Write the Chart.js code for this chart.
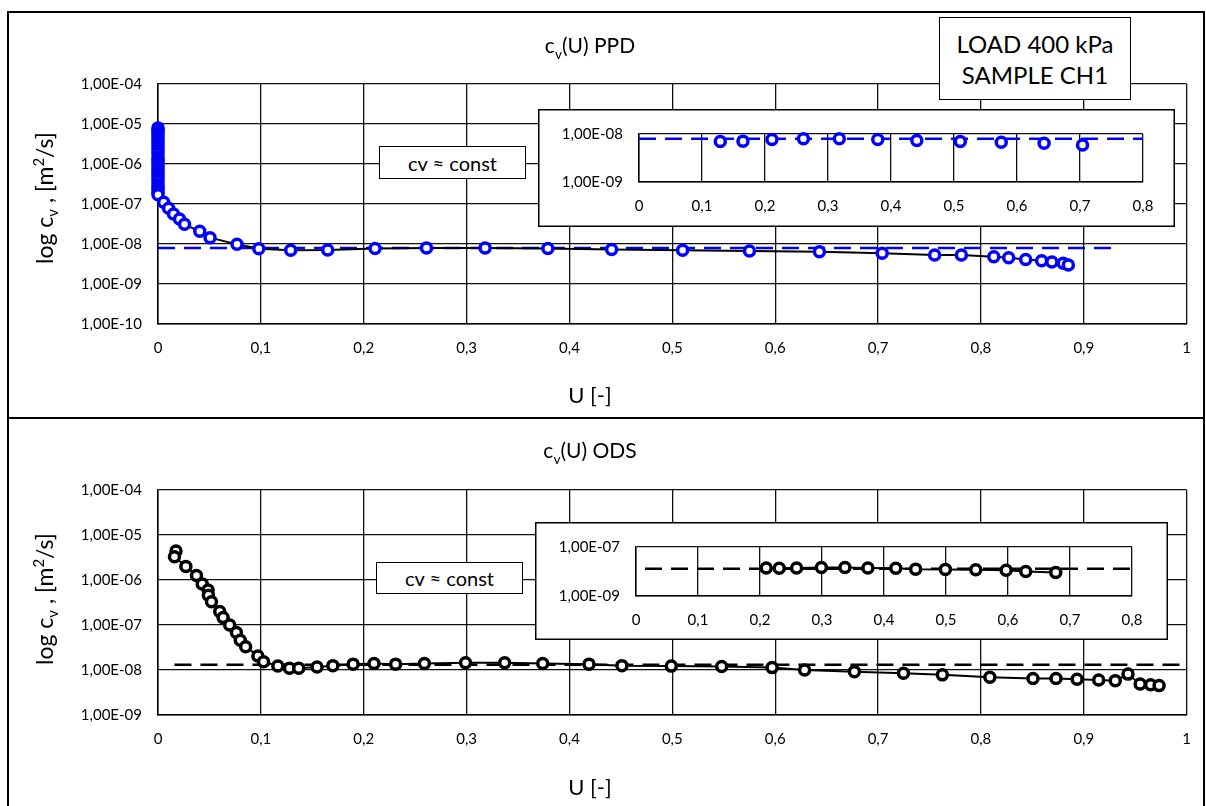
<!DOCTYPE html>
<html lang="en">
<head>
<meta charset="utf-8">
<title>cv(U) PPD / ODS</title>
<script src="https://cdn.jsdelivr.net/npm/chart.js@4.4.1/dist/chart.umd.min.js"></script>
<style>
  * { box-sizing: border-box; }
  body { margin: 0; width: 1206px; height: 806px; position: relative; overflow: hidden; background: #fff; color: #000;
         font-family: Lato, 'Open Sans', sans-serif; }
  .panel { position: absolute; left: 7px; width: 1198px; border: 2px solid #000; }
  canvas { position: absolute; }
  .txt { position: absolute; white-space: nowrap; transform: translate(-50%, -50%); }
  .ytitle { position: absolute; white-space: nowrap; font-size: 23px; transform: translate(-50%, -50%) rotate(-90deg); }
  .box { position: absolute; background: #fff; border: 1.5px solid #000; display: flex; align-items: center;
         justify-content: center; text-align: center; }
  sub, sup { font-size: 0.65em; }
</style>
</head>
<body>
  <div class="panel" style="top:11px;height:408px"></div>
  <div class="panel" style="top:417px;height:400px"></div>

  <canvas id="ppdMain" width="1206" height="417" style="left:0;top:0"></canvas>
  <canvas id="odsMain" width="1206" height="389" style="left:0;top:417px"></canvas>

  <div class="txt" style="left:590px;top:47px;font-size:21px">c<sub>v</sub>(U) PPD</div>
  <div class="txt" style="left:590px;top:452px;font-size:21px">c<sub>v</sub>(U) ODS</div>
  <div class="ytitle" style="left:45px;top:198px">log c<sub>v</sub> , [m<sup>2</sup>/s]</div>
  <div class="ytitle" style="left:45px;top:599px">log c<sub>v</sub> , [m<sup>2</sup>/s]</div>
  <div class="txt" style="left:590px;top:394px;font-size:22px">U [-]</div>
  <div class="txt" style="left:590px;top:786px;font-size:22px">U [-]</div>

  <div class="box" style="left:379px;top:146px;width:147px;height:33px;font-size:20px">cv ≈ const</div>
  <div class="box" style="left:376px;top:562px;width:147px;height:32px;font-size:20px">cv ≈ const</div>
  <div class="box" style="left:939px;top:17px;width:192px;height:83px;font-size:24px;line-height:31px">LOAD 400 kPa<br>SAMPLE CH1</div>

  <canvas id="ppdInset" width="637" height="118" style="left:538px;top:109px"></canvas>
  <canvas id="odsInset" width="633" height="118" style="left:535px;top:522px"></canvas>

<script>
// PPD (top) – U [-] and cv [m2/s]
const ppdU = [0, 0, 0, 0, 0, 0, 0, 0, 0, 0, 0, 0, 0, 0, 0, 0, 0, 0, 0, 0, 0, 0, 0, 0, 0, 0,
  0.0055, 0.0103, 0.0151, 0.0209, 0.0258, 0.0406, 0.0506, 0.0768, 0.098,
  0.129, 0.165, 0.211, 0.261, 0.318, 0.379, 0.441, 0.510, 0.575, 0.643, 0.704,
  0.755, 0.781, 0.8125, 0.827, 0.8435, 0.859, 0.869, 0.880, 0.885];
const ppdCv = [8e-6, 7e-6, 6.2e-6, 5.4e-6, 4.6e-6, 4e-6, 3.4e-6, 2.9e-6, 2.5e-6, 2.1e-6, 1.8e-6, 1.5e-6, 1.3e-6,
  1.1e-6, 9.5e-7, 8e-7, 6.8e-7, 5.8e-7, 4.9e-7, 4.2e-7, 3.6e-7, 3e-7, 2.6e-7, 2.2e-7, 1.9e-7, 1.7e-7,
  1.1e-7, 7.8e-8, 5.6e-8, 4.2e-8, 3.1e-8, 2.08e-8, 1.44e-8, 9.8e-9, 7.6e-9,
  7.0e-9, 7.1e-9, 7.7e-9, 8.0e-9, 8.0e-9, 7.7e-9, 7.3e-9, 7.0e-9, 6.7e-9, 6.4e-9, 5.9e-9,
  5.3e-9, 5.3e-9, 4.8e-9, 4.55e-9, 4.1e-9, 3.8e-9, 3.55e-9, 3.3e-9, 3.0e-9];
const ppdConst = 8e-9;
const ppdConstU = [0, 0.93];
const ppdInsetConstU = [0, 0.8];
const ppdInsetU = [0.12, 0.71];

// ODS (bottom)
const odsU = [0.0175, 0.016, 0.0271, 0.0374, 0.043, 0.0487, 0.049, 0.052, 0.060, 0.0633, 0.0697, 0.0762, 0.080,
  0.0852, 0.0971, 0.1026, 0.1165, 0.1278, 0.1368, 0.1546, 0.170, 0.1897,
  0.210, 0.231, 0.259, 0.299, 0.337, 0.374, 0.419, 0.451, 0.499, 0.548, 0.597, 0.6286, 0.677,
  0.7247, 0.7625, 0.8087, 0.8506, 0.873, 0.8935, 0.9145, 0.9306, 0.943, 0.9548, 0.965, 0.9732];
const odsCv = [4.4e-6, 3.3e-6, 2.0e-6, 1.26e-6, 8.2e-7, 6.0e-7, 4.6e-7, 3.3e-7, 2.0e-7, 1.46e-7, 1.0e-7, 6.8e-8, 4.6e-8,
  3.3e-8, 2.05e-8, 1.53e-8, 1.23e-8, 1.1e-8, 1.1e-8, 1.17e-8, 1.25e-8, 1.35e-8,
  1.4e-8, 1.35e-8, 1.4e-8, 1.45e-8, 1.45e-8, 1.4e-8, 1.35e-8, 1.25e-8, 1.22e-8, 1.19e-8, 1.13e-8, 1.0e-8, 9.2e-9,
  8.5e-9, 7.8e-9, 6.9e-9, 6.5e-9, 6.5e-9, 6.2e-9, 6.0e-9, 5.8e-9, 8.1e-9, 4.9e-9, 4.7e-9, 4.5e-9];
const odsConst = 1.3e-8;
const odsConstU = [0.016, 1];
const odsInsetConstU = [0.0145, 0.8];
const odsInsetU = [0.2, 0.7];

// axes
const xTicksMain = [0, 0.1, 0.2, 0.3, 0.4, 0.5, 0.6, 0.7, 0.8, 0.9, 1];
const xTicksInset = [0, 0.1, 0.2, 0.3, 0.4, 0.5, 0.6, 0.7, 0.8];
const yTicksPpd = [1e-10, 1e-9, 1e-8, 1e-7, 1e-6, 1e-5, 1e-4];
const yTicksOds = [1e-9, 1e-8, 1e-7, 1e-6, 1e-5, 1e-4];
const yTicksPpdInset = [1e-9, 1e-8];
const yTicksOdsInset = [1e-9, 1e-7];

const BLUE = '#0000ff';
const font = { family: 'Lato, "Open Sans", sans-serif', size: 15 };

const fmtX = v => String(Math.round(v * 10) / 10).replace('.', ',');
const fmtY = v => {
  const e = Math.round(Math.log10(v));
  const m = v / Math.pow(10, e);
  return m.toFixed(2).replace('.', ',') + 'E' + (e < 0 ? '-' : '+') + String(Math.abs(e)).padStart(2, '0');
};
const pairs = (xs, ys, lo, hi) => xs.map((x, i) => ({ x, y: ys[i] })).filter(p => p.x >= lo && p.x <= hi);

// white box with black frame behind an inset
const frame = {
  id: 'frame',
  beforeDraw(chart) {
    const { ctx, width, height } = chart;
    ctx.save();
    ctx.fillStyle = '#fff';
    ctx.fillRect(0, 0, width, height);
    ctx.strokeStyle = '#000';
    ctx.lineWidth = 1.5;
    ctx.strokeRect(0.75, 0.75, width - 1.5, height - 1.5);
    ctx.restore();
  }
};

function plot(id, c) {
  const cv = document.getElementById(id);
  const W = cv.width, H = cv.height;
  const grid = { color: '#111', lineWidth: 1.3, drawTicks: false };
  const border = { color: '#000', width: 1.5 };
  return new Chart(cv, {
    type: 'scatter',
    data: {
      datasets: [
        {
          data: c.pts, showLine: c.line, borderColor: '#000', borderWidth: 2, clip: false,
          pointRadius: 5, pointBorderWidth: 3.5, pointBorderColor: c.color, pointBackgroundColor: '#fff'
        },
        {
          data: [{ x: c.constU[0], y: c.constY }, { x: c.constU[1], y: c.constY }],
          showLine: true, borderColor: c.color, borderWidth: 2.5, borderDash: [17, 9], pointRadius: 0, clip: false
        }
      ]
    },
    options: {
      responsive: false, animation: false, events: [],
      layout: { padding: { left: 0, top: c.area.top, right: W - c.area.right, bottom: 0 } },
      plugins: { legend: { display: false }, tooltip: { enabled: false } },
      scales: {
        x: {
          type: 'linear', min: 0, max: c.xTicks[c.xTicks.length - 1],
          afterFit: s => { s.height = H - c.area.bottom; },
          afterBuildTicks: s => { s.ticks = c.xTicks.map(v => ({ value: v })); },
          ticks: { padding: 15, color: '#000', font, maxRotation: 0, autoSkip: false, callback: fmtX },
          grid, border
        },
        y: {
          type: 'logarithmic', min: c.yTicks[0], max: c.yTicks[c.yTicks.length - 1],
          afterFit: s => { s.width = c.area.left; },
          afterBuildTicks: s => { s.ticks = c.yTicks.map(v => ({ value: v })); },
          ticks: { padding: 16, color: '#000', font, autoSkip: false, callback: fmtY },
          grid, border
        }
      }
    },
    plugins: c.frame ? [frame] : []
  });
}

plot('ppdMain', {
  pts: pairs(ppdU, ppdCv, 0, 1), line: true, color: BLUE, constY: ppdConst, constU: ppdConstU,
  xTicks: xTicksMain, yTicks: yTicksPpd, area: { left: 158, right: 1191, top: 84, bottom: 324 }
});
plot('odsMain', {
  pts: pairs(odsU, odsCv, 0, 1), line: true, color: '#000', constY: odsConst, constU: odsConstU,
  xTicks: xTicksMain, yTicks: yTicksOds, area: { left: 158, right: 1191, top: 73, bottom: 298 }
});
plot('ppdInset', {
  pts: pairs(ppdU, ppdCv, ppdInsetU[0], ppdInsetU[1]), line: false, color: BLUE, constY: ppdConst, constU: ppdInsetConstU,
  xTicks: xTicksInset, yTicks: yTicksPpdInset, area: { left: 101, right: 605, top: 22, bottom: 73 }, frame: true
});
plot('odsInset', {
  pts: pairs(odsU, odsCv, odsInsetU[0], odsInsetU[1]), line: true, color: '#000', constY: odsConst, constU: odsInsetConstU,
  xTicks: xTicksInset, yTicks: yTicksOdsInset, area: { left: 101, right: 597, top: 22, bottom: 74 }, frame: true
});
</script>
</body>
</html>
